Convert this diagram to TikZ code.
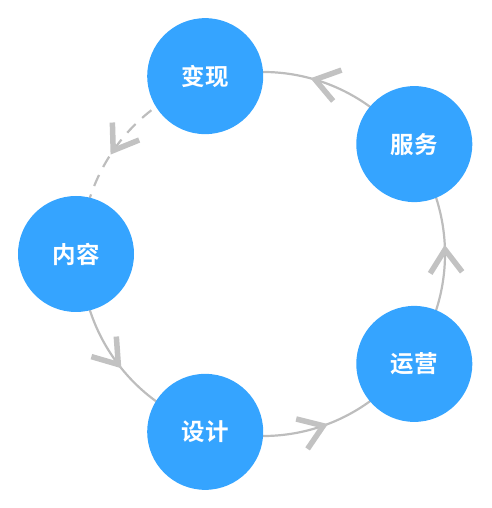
\documentclass[tikz,border=0pt]{standalone}
\usepackage{fontspec}
\newfontfamily\cjk{Noto Sans CJK SC Bold}
\usetikzlibrary{arrows.meta,decorations.markings,backgrounds,calc}
\definecolor{nodeblue}{HTML}{35A4FF}
\definecolor{linegray}{HTML}{BDBDBD}
\definecolor{tipgray}{HTML}{C2C2C2}
\tikzset{
  stage/.style={circle,fill=nodeblue,minimum size=116pt,inner sep=0pt,
    text=white,font=\cjk\fontsize{23.5pt}{23.5pt}\selectfont},
  flow/.style={draw=linegray,line width=2.2pt,
    postaction={decorate,decoration={markings,
      mark=at position 0.54 with {\arrow[tipgray]{Straight Barb[length=23pt,width=32pt,line width=5.5pt]}}}}},
  flowdash/.style={flow,dash pattern=on 12pt off 9pt},
}
\begin{document}
\begin{tikzpicture}[x=1pt,y=1pt]
\useasboundingbox (0,0) rectangle (491,508);
\coordinate (o) at (263,254);
\node[stage] (bx) at ($(o)+(108:187)$) {变现};
\node[stage] (fw) at ($(o)+(36:187)$) {服务};
\node[stage] (yy) at ($(o)+(-36:187)$) {运营};
\node[stage] (sj) at ($(o)+(-108:187)$) {设计};
\node[stage] (nr) at ($(o)+(180:187)$) {内容};
% points where the ring of connectors passes under each stage
\coordinate (bx-r) at ($(o)!182/187!(bx)$);
\coordinate (fw-r) at ($(o)!182/187!(fw)$);
\coordinate (yy-r) at ($(o)!182/187!(yy)$);
\coordinate (sj-r) at ($(o)!182/187!(sj)$);
\coordinate (nr-r) at ($(o)!182/187!(nr)$);
\begin{scope}[on background layer]
\draw[flow] (nr-r) arc[start angle=180,end angle=252,radius=182];
\draw[flow] (sj-r) arc[start angle=252,end angle=324,radius=182];
\draw[flow] (yy-r) arc[start angle=324,end angle=396,radius=182];
\draw[flow] (fw-r) arc[start angle=396,end angle=468,radius=182];
\draw[flowdash] (bx-r) arc[start angle=108,end angle=180,radius=182];
\end{scope}
\end{tikzpicture}
\end{document}
